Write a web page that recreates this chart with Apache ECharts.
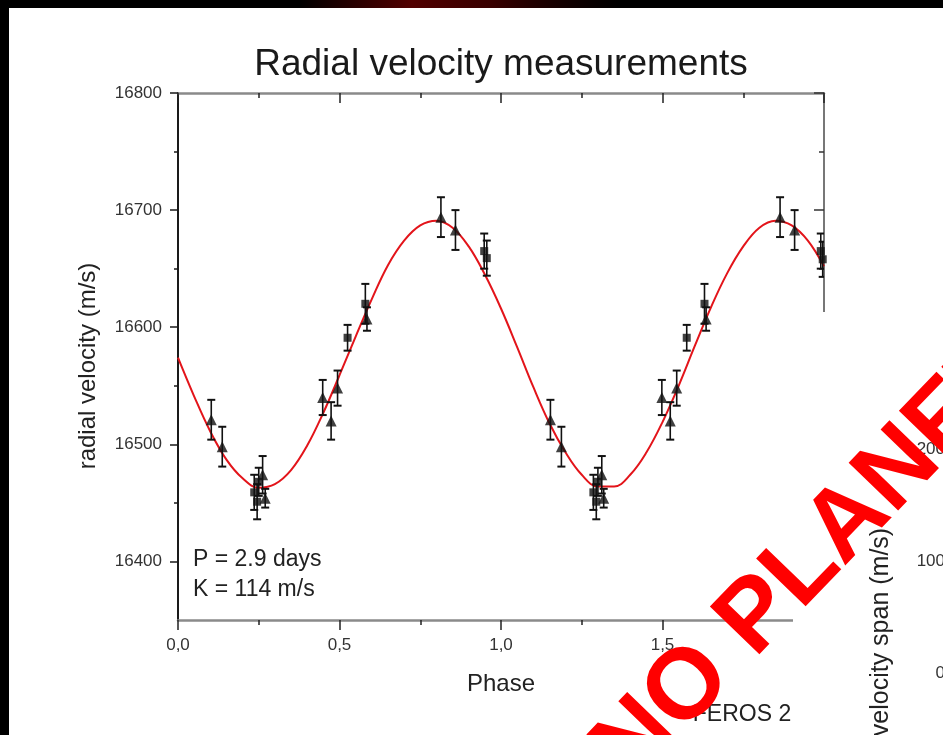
<!DOCTYPE html>
<html><head><meta charset="utf-8">
<script src="https://cdn.jsdelivr.net/npm/echarts@6/dist/echarts.min.js"></script>
<style>html,body{margin:0;padding:0;background:#000;}#c{width:943px;height:735px;}</style>
</head><body><div id="c"></div>
<script>
// ---- data ----
const xTickLabels = ['0,0', '0,5', '1,0', '1,5', '2,0'];
const yTickValues = [16400, 16500, 16600, 16700, 16800];
const yMinorValues = [16450, 16550, 16650, 16750];
const spanTickValues = [0, 100, 200];

// [phase, radial velocity (m/s), error (m/s)]
const triangles = [
  [0.103, 16521, 17], [0.137, 16498, 17], [0.262, 16474, 16], [0.270, 16454, 8],
  [0.448, 16540, 15], [0.474, 16520, 16], [0.494, 16548, 15], [0.585, 16607, 10],
  [0.814, 16694, 17], [0.859, 16683, 17],
  [1.153, 16521, 17], [1.187, 16498, 17], [1.312, 16474, 16], [1.318, 16454, 8],
  [1.498, 16540, 15], [1.524, 16520, 16], [1.544, 16548, 15], [1.635, 16607, 10],
  [1.864, 16694, 17], [1.909, 16683, 17]
];
const squares = [
  [0.236, 16459, 15], [0.245, 16451, 15], [0.250, 16468, 12],
  [0.525, 16591, 11], [0.580, 16620, 17], [0.948, 16665, 15], [0.956, 16659, 15],
  [1.286, 16459, 15], [1.295, 16451, 15], [1.300, 16468, 12],
  [1.575, 16591, 11], [1.630, 16620, 17], [1.990, 16665, 15], [1.996, 16658, 15]
];
// fitted curve
const fitPhase = [0, 0.05, 0.10, 0.15, 0.20, 0.25, 0.30, 0.35, 0.40, 0.45, 0.50, 0.55, 0.60, 0.65, 0.70,
  0.75, 0.80, 0.85, 0.90, 0.95, 1.00, 1.05, 1.10, 1.15, 1.20, 1.25, 1.30, 1.35, 1.40, 1.45, 1.50,
  1.55, 1.60, 1.65, 1.70, 1.75, 1.80, 1.85, 1.90, 1.95, 2.00];
const fitVelocity = [16574, 16541, 16511, 16487, 16471, 16463, 16466, 16478, 16499, 16527, 16559,
  16592, 16624, 16653, 16674, 16687, 16691, 16685, 16669, 16645, 16616, 16583, 16549, 16518, 16493,
  16474, 16464, 16464, 16474, 16493, 16519, 16550, 16584, 16617, 16646, 16669, 16685, 16691, 16687,
  16674, 16652];

const chart = echarts.init(document.getElementById('c'), null, {renderer: 'canvas'});
const FONT = '"Liberation Sans", Arial, sans-serif';
const TXT = '#222';

function errorBars(data) {
  return {
    type: 'custom', xAxisIndex: 0, yAxisIndex: 0, clip: true, z: 3,
    data: data.map(d => [d[0], d[1] - d[2], d[1] + d[2]]),
    encode: {x: 0, y: [1, 2]},
    renderItem(params, api) {
      const x = api.value(0);
      const lo = api.coord([x, api.value(1)]);
      const hi = api.coord([x, api.value(2)]);
      const hw = 4;
      return {type: 'group', children: [
        {type: 'line', shape: {x1: lo[0], y1: lo[1], x2: hi[0], y2: hi[1]}, style: {stroke: '#111', lineWidth: 1.6}},
        {type: 'line', shape: {x1: lo[0] - hw, y1: lo[1], x2: lo[0] + hw, y2: lo[1]}, style: {stroke: '#111', lineWidth: 2}},
        {type: 'line', shape: {x1: hi[0] - hw, y1: hi[1], x2: hi[0] + hw, y2: hi[1]}, style: {stroke: '#111', lineWidth: 2}}
      ]};
    }
  };
}

const option = {
  backgroundColor: '#000',
  animation: false,
  grid: [
    {left: 178, right: 119, top: 93, bottom: 115},
    {left: 955, width: 40, top: 394, bottom: 62}
  ],
  xAxis: [
    {type: 'value', gridIndex: 0, position: 'bottom', min: 0, max: 2, interval: 0.5,
     axisLine: {lineStyle: {color: '#8a8a8a', width: 2.5}},
     axisTick: {length: 10, lineStyle: {color: '#222', width: 1.5}},
     minorTick: {show: true, splitNumber: 2, length: 5, lineStyle: {color: '#222', width: 1.5}},
     axisLabel: {margin: 17, fontSize: 17, color: '#333', fontFamily: FONT,
       formatter: v => xTickLabels[Math.round(v / 0.5)]},
     splitLine: {show: false},
     name: 'Phase', nameLocation: 'middle', nameGap: 52,
     nameTextStyle: {fontSize: 24, color: TXT, fontFamily: FONT}},
    {type: 'value', gridIndex: 0, position: 'top', min: 0, max: 2, interval: 0.5,
     axisLine: {lineStyle: {color: '#8a8a8a', width: 2.5}},
     axisTick: {inside: true, length: 10, lineStyle: {color: '#222', width: 1.5}},
     minorTick: {show: true, splitNumber: 2, length: 5, lineStyle: {color: '#222', width: 1.5}},
     axisLabel: {show: false}, splitLine: {show: false}},
    {type: 'value', gridIndex: 1, show: false}
  ],
  yAxis: [
    {type: 'value', gridIndex: 0, position: 'left', min: 16350, max: 16800,
     axisLine: {show: true, lineStyle: {color: '#1a1a1a', width: 2}},
     axisTick: {show: true, customValues: yTickValues, length: 8, lineStyle: {color: '#1a1a1a', width: 1.5}},
     axisLabel: {customValues: yTickValues, margin: 16, fontSize: 17, color: '#333', fontFamily: FONT,
       formatter: v => String(v)},
     splitLine: {show: false}},
    {type: 'value', gridIndex: 0, position: 'left', min: 16350, max: 16800,
     axisLine: {show: false},
     axisTick: {show: true, customValues: yMinorValues, length: 4, lineStyle: {color: '#1a1a1a', width: 1.5}},
     axisLabel: {show: false}, splitLine: {show: false}},
    {type: 'value', gridIndex: 0, position: 'right', min: 16350, max: 16800,
     axisLine: {show: true, lineStyle: {color: '#777', width: 2}},
     axisTick: {show: true, inside: true, customValues: yTickValues, length: 10, lineStyle: {color: '#333', width: 1.5}},
     axisLabel: {show: false}, splitLine: {show: false}},
    {type: 'value', gridIndex: 0, position: 'right', min: 16350, max: 16800,
     axisLine: {show: false},
     axisTick: {show: true, inside: true, customValues: yMinorValues, length: 5, lineStyle: {color: '#333', width: 1.5}},
     axisLabel: {show: false}, splitLine: {show: false}},
    {type: 'value', gridIndex: 1, position: 'left', min: 0, max: 250, z: 70,
     axisLine: {show: false}, axisTick: {show: false}, splitLine: {show: false},
     axisLabel: {customValues: spanTickValues, margin: 10, fontSize: 17, color: '#333', fontFamily: FONT,
       formatter: v => String(v)}}
  ],
  series: [
    {type: 'line', xAxisIndex: 0, yAxisIndex: 0, smooth: 0.4, showSymbol: false, clip: true, z: 2,
     data: fitPhase.map((p, i) => [p, fitVelocity[i]]),
     lineStyle: {color: '#e3141a', width: 2}},
    errorBars(triangles),
    errorBars(squares),
    {type: 'scatter', xAxisIndex: 0, yAxisIndex: 0, symbol: 'triangle', symbolSize: 11, z: 4,
     data: triangles.map(d => [d[0], d[1]]), itemStyle: {color: '#111'}},
    {type: 'scatter', xAxisIndex: 0, yAxisIndex: 0, symbol: 'rect', symbolSize: 8, z: 4,
     data: squares.map(d => [d[0], d[1]]), itemStyle: {color: '#111'}}
  ],
  graphic: [
    {type: 'rect', z: -100, shape: {x: 300, y: 0, width: 320, height: 9},
     style: {fill: new echarts.graphic.LinearGradient(0, 0, 1, 0, [
       {offset: 0, color: 'rgba(90,0,0,0)'}, {offset: 0.35, color: 'rgba(90,0,0,0.9)'},
       {offset: 0.6, color: 'rgba(70,0,0,0.8)'}, {offset: 1, color: 'rgba(40,0,0,0)'}])}},
    {type: 'rect', z: -90, shape: {x: 9, y: 8, width: 934, height: 727}, style: {fill: '#ffffff'}},
    {type: 'text', z: 10, x: 501, y: 65,
     style: {text: 'Radial velocity measurements', font: '37px ' + FONT, fill: '#1a1a1a', align: 'center', verticalAlign: 'middle'}},
    {type: 'text', z: 10, x: 88, y: 366, rotation: Math.PI / 2,
     style: {text: 'radial velocity (m/s)', font: '24px ' + FONT, fill: TXT, align: 'center', verticalAlign: 'middle'}},
    {type: 'text', z: 10, x: 193, y: 560,
     style: {text: 'P = 2.9 days', font: '23px ' + FONT, fill: TXT, align: 'left', verticalAlign: 'middle'}},
    {type: 'text', z: 10, x: 193, y: 590,
     style: {text: 'K = 114 m/s', font: '23px ' + FONT, fill: TXT, align: 'left', verticalAlign: 'middle'}},
    {type: 'rect', z: 50, shape: {x: 793, y: 312, width: 160, height: 430}, style: {fill: '#ffffff'}},
    {type: 'text', z: 60, x: 742, y: 715,
     style: {text: 'FEROS 2', font: '23px ' + FONT, fill: TXT, align: 'center', verticalAlign: 'middle'}},
    {type: 'text', z: 60, x: 881, y: 632, rotation: Math.PI / 2,
     style: {text: 'velocity span (m/s)', font: '25px ' + FONT, fill: TXT, align: 'center', verticalAlign: 'middle'}},
    {type: 'text', z: 100, x: 812, y: 560, rotation: 0.803,
     style: {text: 'NO PLANET', font: 'bold 100px ' + FONT, fill: '#ff0000', align: 'center', verticalAlign: 'middle'}}
  ]
};
chart.setOption(option);
</script>
</body></html>
